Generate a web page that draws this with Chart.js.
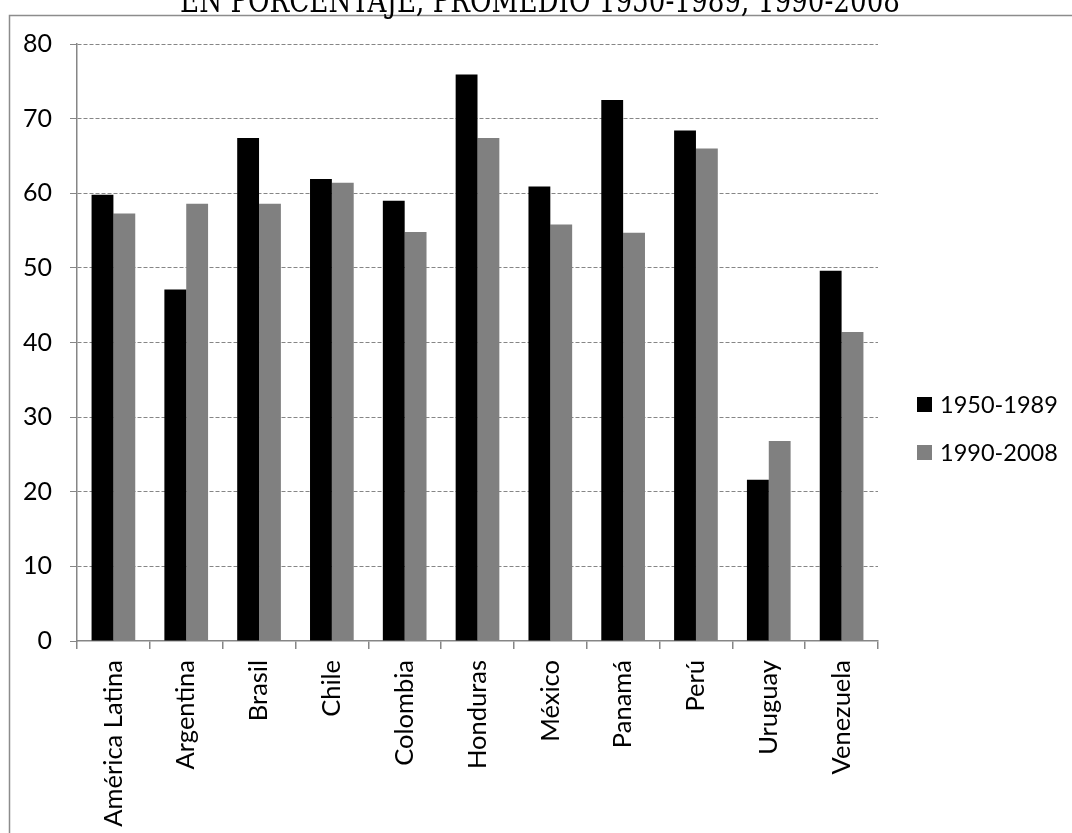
<!DOCTYPE html>
<html>
<head>
<meta charset="utf-8">
<script src="https://cdn.jsdelivr.net/npm/chart.js@4.4.1/dist/chart.umd.min.js"></script>
<style>
  html, body { margin: 0; padding: 0; background: #ffffff; }
  #wrap { width: 1072px; height: 833px; }
</style>
</head>
<body>
<div id="wrap"><canvas id="chart" width="1072" height="833"></canvas></div>
<script>
// Países y promedios (en porcentaje)
const categories = ['América Latina', 'Argentina', 'Brasil', 'Chile', 'Colombia', 'Honduras', 'México', 'Panamá', 'Perú', 'Uruguay', 'Venezuela'];
const serie1950_1989 = [59.8, 47.1, 67.4, 61.9, 59.0, 75.9, 60.9, 72.5, 68.4, 21.6, 49.6];
const serie1990_2008 = [57.3, 58.6, 58.6, 61.4, 54.8, 67.4, 55.8, 54.7, 66.0, 26.8, 41.4];
const seriesLabels = ['1950-1989', '1990-2008'];
const yTicks = [0, 10, 20, 30, 40, 50, 60, 70, 80];
const titleText = 'EN PORCENTAJE, PROMEDIO 1950-1989, 1990-2008';

const AXIS_GRAY = '#868686';
const FONT = 'Lato, "Open Sans", sans-serif';

// Marco exterior y título (parcialmente recortado arriba)
const framePlugin = {
  id: 'frame',
  beforeDraw(chart) {
    const c = chart.ctx;
    c.save();
    c.fillStyle = '#ffffff';
    c.fillRect(0, 0, chart.width, chart.height);
    c.strokeStyle = '#8c8c8c';
    c.lineWidth = 1.5;
    c.strokeRect(9.5, 15.5, 3000, 3000);
    // título
    c.font = '33px "DejaVu Serif", serif';
    c.fillStyle = '#000000';
    c.textBaseline = 'alphabetic';
    c.textAlign = 'left';
    const w = c.measureText(titleText).width;
    const target = 720;
    c.translate(540 - target / 2, 12);
    c.scale(target / w, 1);
    c.fillText(titleText, 0, 0);
    c.restore();
  }
};

// Leyenda a la derecha
const legendPlugin = {
  id: 'sideLegend',
  afterDraw(chart) {
    const c = chart.ctx;
    c.save();
    c.font = '23.5px ' + FONT;
    c.textBaseline = 'middle';
    c.textAlign = 'left';
    const rows = [405, 453];
    chart.data.datasets.forEach((ds, i) => {
      const y = rows[i];
      c.fillStyle = ds.backgroundColor;
      c.fillRect(917, y - 8, 15, 15);
      c.fillStyle = '#000000';
      c.fillText(ds.label, 940, y);
    });
    c.restore();
  }
};

new Chart(document.getElementById('chart'), {
  type: 'bar',
  data: {
    labels: categories,
    datasets: [
      { label: seriesLabels[0], data: serie1950_1989, backgroundColor: '#000000', barPercentage: 1, categoryPercentage: 0.6 },
      { label: seriesLabels[1], data: serie1990_2008, backgroundColor: '#808080', barPercentage: 1, categoryPercentage: 0.6 }
    ]
  },
  options: {
    responsive: false,
    animation: false,
    layout: { padding: { top: 44, right: 194, left: 0, bottom: 0 } },
    plugins: {
      legend: { display: false },
      tooltip: { enabled: false },
      title: { display: false }
    },
    scales: {
      x: {
        type: 'category',
        afterFit(scale) { scale.height = 192; },
        grid: {
          offset: true,
          drawOnChartArea: false,
          drawTicks: true,
          tickLength: 8,
          color: AXIS_GRAY,
          tickColor: AXIS_GRAY,
          lineWidth: 1.5
        },
        border: { display: true, color: AXIS_GRAY, width: 1.5 },
        ticks: {
          autoSkip: false,
          minRotation: 90,
          maxRotation: 90,
          padding: 11,
          color: '#000000',
          font: { family: FONT, size: 25.5 }
        }
      },
      y: {
        min: 0,
        max: 80,
        afterFit(scale) { scale.width = 77; },
        afterBuildTicks(scale) { scale.ticks = yTicks.map(v => ({ value: v })); },
        grid: {
          drawTicks: true,
          tickLength: 7,
          color: (ctx) => (ctx.tick && ctx.tick.value === 0) ? 'rgba(0,0,0,0)' : AXIS_GRAY,
          tickColor: AXIS_GRAY,
          tickBorderDash: [],
          lineWidth: 1
        },
        border: { display: true, color: AXIS_GRAY, width: 1.5, dash: [4, 2] },
        ticks: {
          padding: 18,
          color: '#000000',
          font: { family: FONT, size: 25 }
        }
      }
    }
  },
  plugins: [framePlugin, legendPlugin]
});
</script>
</body>
</html>
